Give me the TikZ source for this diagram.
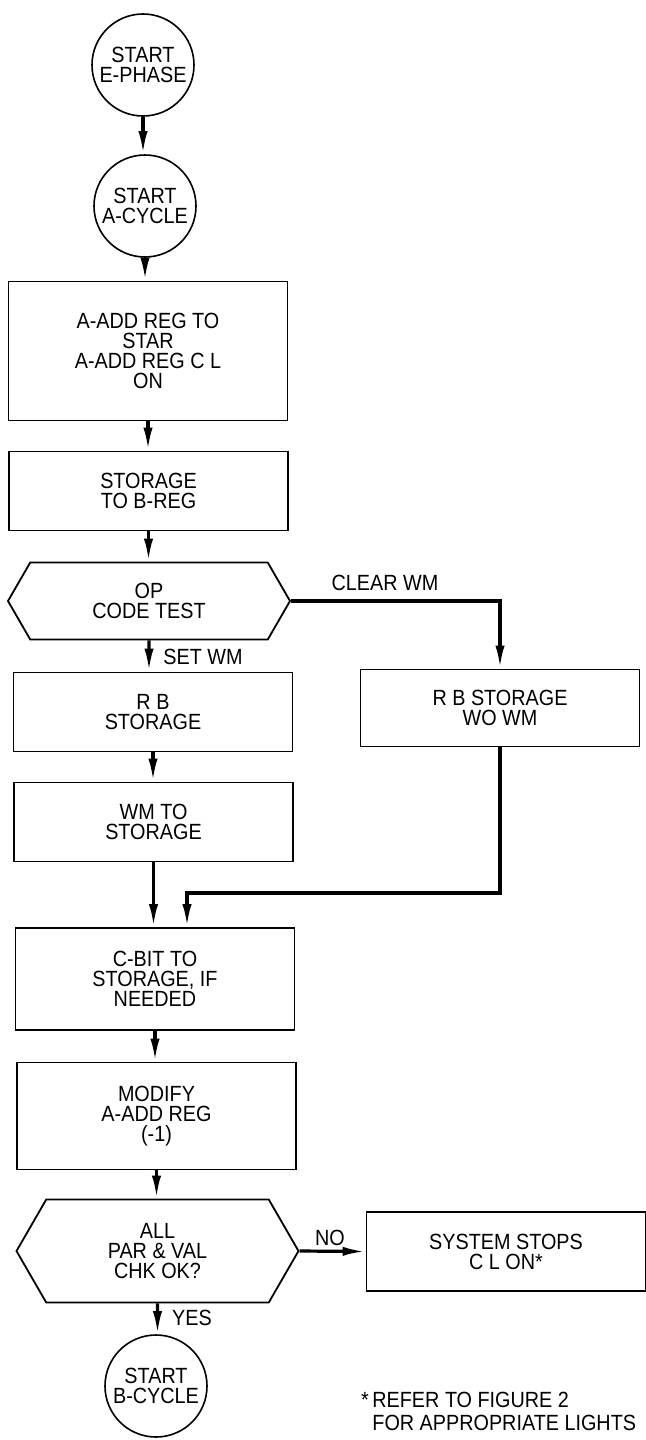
\documentclass[tikz,border=0pt]{standalone}
\usepackage{fontspec}
\setmainfont{Liberation Sans}[FakeStretch=0.9]
\usetikzlibrary{arrows.meta,shapes.symbols}

\begin{document}
\begin{tikzpicture}[x=0.5pt,y=-0.5pt,
 font=\fontsize{11pt}{10pt}\selectfont,
 box/.style={draw,line width=0.9pt,align=center,minimum width=139.5pt,minimum height=39.5pt,inner sep=1pt},
 term/.style={draw,circle,line width=0.8pt,align=center,minimum size=51pt,inner sep=0pt},
 test/.style={draw,signal,signal to=west and east,signal pointer angle=120,line width=0.9pt,align=center,minimum width=141pt,minimum height=38.5pt,inner sep=1pt},
 arr/.style={-{Latex[length=11.5pt,width=4.6pt]},line width=1.6pt},
 lbl/.style={inner sep=0pt}]
\useasboundingbox (0,0) rectangle (646,1440);
\node[term] (starte) at (143,65) {START\\E-PHASE};
\node[term] (starta) at (145,206) {START\\A-CYCLE};
\node[box,minimum height=69.5pt] (addreg) at (148,351) {A-ADD REG TO\\STAR\\A-ADD REG C L\\ON};
\node[box] (tobreg) at (148.5,491) {STORAGE\\TO B-REG};
\node[test] (optest) at (149,601) {OP\\CODE TEST};
\node[box] (rbstor) at (153,712) {R B\\STORAGE};
\node[box] (wmstor) at (153.5,822) {WM TO\\STORAGE};
\node[box,minimum height=51pt] (cbit) at (155,979) {C-BIT TO\\STORAGE, IF\\NEEDED};
\node[box,minimum height=53.5pt] (modify) at (156.5,1116) {MODIFY\\A-ADD REG\\(-1)};
\node[test,minimum height=51.5pt] (chkok) at (157.5,1251) {ALL\\PAR \& VAL\\CHK OK?};
\node[term] (startb) at (156,1386) {START\\B-CYCLE};
\node[box,minimum height=38.5pt] (rbwowm) at (500,708) {R B STORAGE\\WO WM};
\node[box] (stops) at (506,1251.5) {SYSTEM STOPS\\C L ON*};
\foreach \a/\b in {starte/starta,starta/addreg,addreg/tobreg,tobreg/optest,optest/rbstor,rbstor/wmstor,wmstor/cbit,cbit/modify,modify/chkok,chkok/startb}
  \draw[arr] (\a) -- (\a |- \b.north);
\coordinate (join) at (187,893);
\draw[arr] (optest.east) -| (rbwowm.north);
\draw[arr] (rbwowm.south) |- (join) -- (join |- cbit.north);
\draw[arr] (chkok.east) -- (stops.west);
\node[lbl] (clearwm) at (385,583) {CLEAR WM};
\node[lbl] (setwm) at (203,657) {SET WM};
\node[lbl] (no) at (330,1238) {NO};
\node[lbl] (yes) at (192,1318) {YES};
\node[lbl,align=left,anchor=north west,font=\fontsize{11pt}{11.5pt}\selectfont] (note) at (372,1392) {\llap{*\,}REFER TO FIGURE 2\\FOR APPROPRIATE LIGHTS};
\end{tikzpicture}
\end{document}
